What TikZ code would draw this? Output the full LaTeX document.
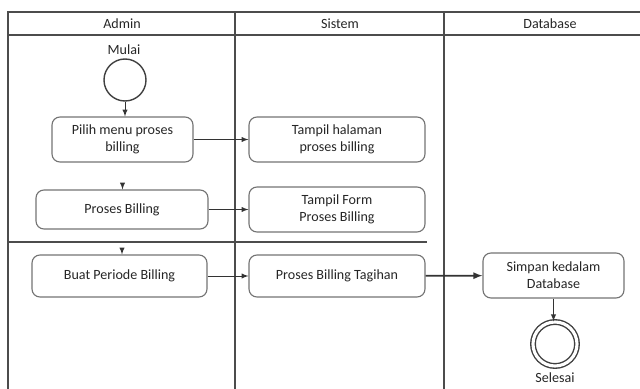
\documentclass[tikz,border=0pt]{standalone}
\usepackage{fontspec}
\setmainfont{Carlito}
\usepackage{tikz}
\usetikzlibrary{arrows,positioning}

\newdimen\px
\px=0.025cm

\tikzset{
    lajur/.style={line width=1.4pt, draw=black!70},
    aksi/.style={draw=black!55, line width=0.8pt, rounded corners=8\px, inner sep=0pt,
                 minimum width=176\px, minimum height=45\px, align=center, text=black!85},
    panah/.style={-latex, line width=0.7pt, draw=black!80},
    teks/.style={text=black!85}
}

\begin{document}
\begin{tikzpicture}[x=\px, y=-\px, font=\fontsize{10}{12}\selectfont]
    \useasboundingbox (0,0) rectangle (640,389);

    % Lajur
    \draw[lajur] (8,389) -- (8,12) -- (640,12);
    \draw[lajur] (8,35) -- (640,35);
    \foreach \x in {235,444} {
        \draw[lajur] (\x,12) -- (\x,389);
    }
    \draw[lajur] (8,242) -- (427,242);

    \node[teks] (hadmin) at (122,24) {Admin};
    \node[teks] (hsistem) at (340,24) {Sistem};
    \node[teks] (hdb) at (550,24) {Database};

    % Awal dan akhir
    \node[teks] (mulai) at (124,50) {Mulai};
    \node[draw=black!75, line width=1pt, circle, minimum size=42\px, inner sep=0pt] (awal) at (125,80) {};
    \node[draw=black!75, line width=1pt, circle, double, double distance=2.2pt,
          minimum size=44\px, inner sep=0pt] (akhir) at (555,344) {};
    \node[teks] (selesai) at (555,378) {Selesai};

    % Aksi
    \node[aksi, minimum width=141\px] (pilih) at (122.5,139.5) {Pilih menu proses\\billing};
    \node[aksi] (tampil1) at (337,139.5) {Tampil halaman\\proses billing};
    \node[aksi, minimum width=172\px, minimum height=39\px] (proses) at (122,209.5) {Proses Billing};
    \node[aksi] (tampil2) at (337,209.5) {Tampil Form\\Proses Billing};
    \node[aksi, minimum width=175\px, minimum height=42\px] (buat) at (119.5,276) {Buat Periode Billing};
    \node[aksi, minimum height=42\px] (tagihan) at (337,276) {Proses Billing Tagihan};
    \node[aksi, minimum width=141\px] (simpan) at (553.5,275.5) {Simpan kedalam\\Database};

    % Alur
    \draw[panah] (awal) -- (awal |- pilih.north);
    \draw[panah] (pilih) -- (tampil1);
    \draw[panah, shorten <=15pt] (pilih) -- (pilih |- proses.north);
    \draw[panah] (proses) -- (tampil2);
    \draw[panah, shorten <=14pt] (proses) -- (proses |- buat.north);
    \draw[panah] (buat) -- (tagihan);
    \draw[panah, line width=1.2pt] (tagihan) -- (simpan);
    \draw[panah] (simpan) -- (simpan |- akhir.north);
\end{tikzpicture}
\end{document}
